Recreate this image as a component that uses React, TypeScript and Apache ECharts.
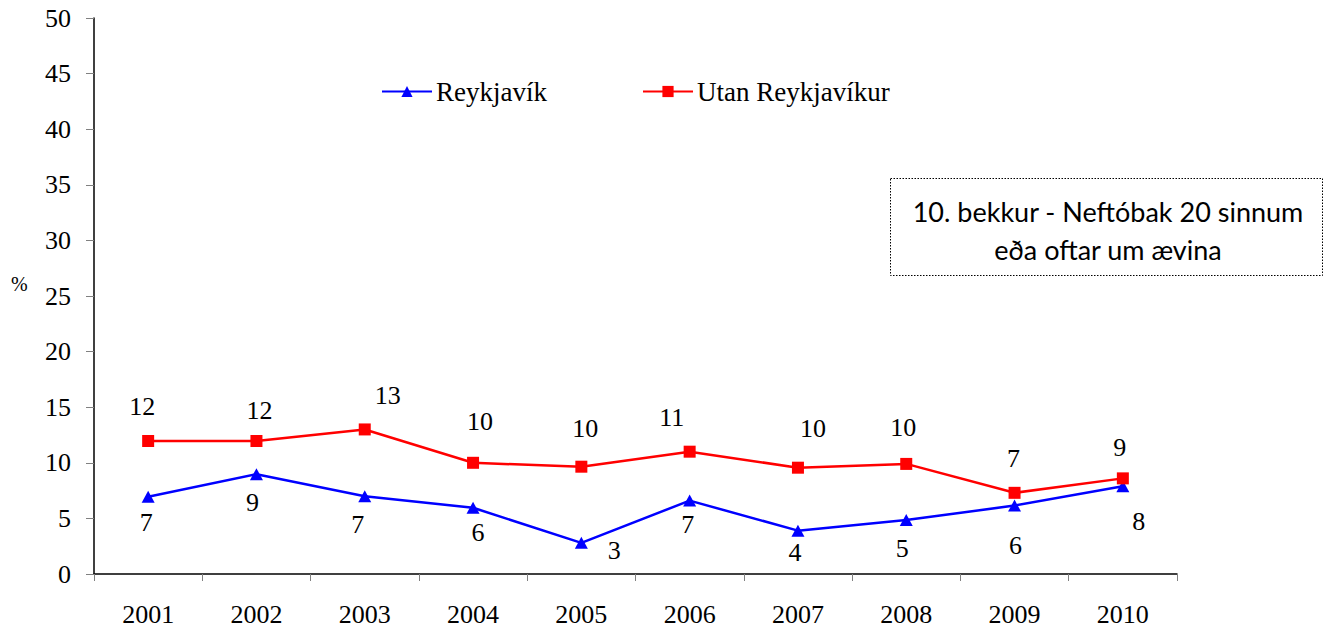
import React, { useEffect, useRef } from "react";
import * as echarts from "echarts";

const years = ["2001", "2002", "2003", "2004", "2005", "2006", "2007", "2008", "2009", "2010"];
const reykjavik = [6.95, 8.97, 7.0, 5.96, 2.8, 6.6, 3.9, 4.86, 6.15, 7.9];
const utanReykjavikur = [11.96, 11.96, 13.0, 10.0, 9.65, 11.0, 9.56, 9.9, 7.3, 8.6];
const yTicks = [0, 5, 10, 15, 20, 25, 30, 35, 40, 45, 50];
const boxLines = ["10. bekkur - Neftóbak 20 sinnum", "eða oftar um ævina"];

// label placement (style only)
const blueLabelOffsets = [[-2, 26], [-4, 28], [-7, 28], [5, 25], [33, 8], [-2, 24], [-3, 22], [-4, 29], [1, 40], [16, 35]];
const redLabelOffsets = [[-6, -35], [3, -31], [23, -34], [7, -41], [4, -38], [-18, -34], [15, -39], [-3, -36], [-1, -34], [-3, -31]];

const SERIF = "'Liberation Serif', 'Times New Roman', serif";
const FS = 26;

export default function App() {
  const ref = useRef<HTMLDivElement>(null);
  useEffect(() => {
    if (!ref.current) return;
    const chart = echarts.init(ref.current, null, { renderer: "svg" });
    const mk = (vals: number[], offs: number[][]) =>
      vals.map((v, i) => ({ value: v, label: { offset: offs[i] } }));
    const labelBase = {
      show: true,
      position: "inside",
      align: "center",
      verticalAlign: "middle",
      color: "#000",
      fontFamily: SERIF,
      fontSize: FS,
      formatter: (p: any) => String(Math.round(p.value)),
    };
    const legendBase = {
      top: 78,
      padding: 0,
      itemWidth: 50,
      itemHeight: 14,
      itemGap: 0,
      textStyle: { fontFamily: SERIF, fontSize: 27, color: "#000", padding: [0, 0, 0, -1] },
    };
    chart.setOption({
      animation: false,
      backgroundColor: "#fff",
      grid: { left: 94, top: 18, width: 1083, height: 556, containLabel: false },
      legend: [
        { ...legendBase, data: ["Reykjavík"], left: 381 },
        { ...legendBase, data: ["Utan Reykjavíkur"], left: 642 },
      ],
      xAxis: {
        type: "category",
        data: years,
        boundaryGap: true,
        axisLine: { lineStyle: { color: "#000", width: 1.5 } },
        axisTick: { show: true, length: 7, lineStyle: { color: "#808080" } },
        axisLabel: { fontFamily: SERIF, fontSize: FS, color: "#000", margin: 27 },
      },
      yAxis: {
        type: "value",
        min: yTicks[0],
        max: yTicks[yTicks.length - 1],
        interval: 5,
        splitLine: { show: false },
        axisLine: { show: true, lineStyle: { color: "#000", width: 1.5 } },
        axisTick: { show: true, length: 8, lineStyle: { color: "#808080" } },
        axisLabel: { fontFamily: SERIF, fontSize: FS, color: "#000", margin: 23 },
      },
      graphic: [
        {
          type: "text",
          left: 11,
          top: 274,
          style: { text: "%", font: `20px ${SERIF}`, fill: "#000" },
        },
        {
          type: "rect",
          shape: { x: 890.5, y: 178.5, width: 432, height: 97 },
          style: { fill: "#fff", stroke: "#000", lineWidth: 1, lineDash: [1.5, 1.5] },
        },
        {
          type: "text",
          x: 1108,
          y: 211,
          style: {
            text: boxLines[0],
            font: "27px Lato, 'Open Sans', sans-serif",
            fill: "#000",
            align: "center",
            verticalAlign: "middle",
          },
        },
        {
          type: "text",
          x: 1108,
          y: 249,
          style: {
            text: boxLines[1],
            font: "27px Lato, 'Open Sans', sans-serif",
            fill: "#000",
            align: "center",
            verticalAlign: "middle",
          },
        },
      ],
      series: [
        {
          name: "Reykjavík",
          type: "line",
          data: mk(reykjavik, blueLabelOffsets),
          symbol: "triangle",
          symbolSize: [13, 12],
          lineStyle: { color: "#0000ff", width: 2.5 },
          itemStyle: { color: "#0000ff" },
          label: labelBase,
        },
        {
          name: "Utan Reykjavíkur",
          type: "line",
          data: mk(utanReykjavikur, redLabelOffsets),
          symbol: "rect",
          symbolSize: 12,
          lineStyle: { color: "#ff0000", width: 2.5 },
          itemStyle: { color: "#ff0000" },
          label: labelBase,
        },
      ],
    });
    return () => chart.dispose();
  }, []);
  return (
    <div
      ref={ref}
      style={{ position: "absolute", left: 0, top: 0, width: 1333, height: 632, background: "#fff" }}
    />
  );
}
